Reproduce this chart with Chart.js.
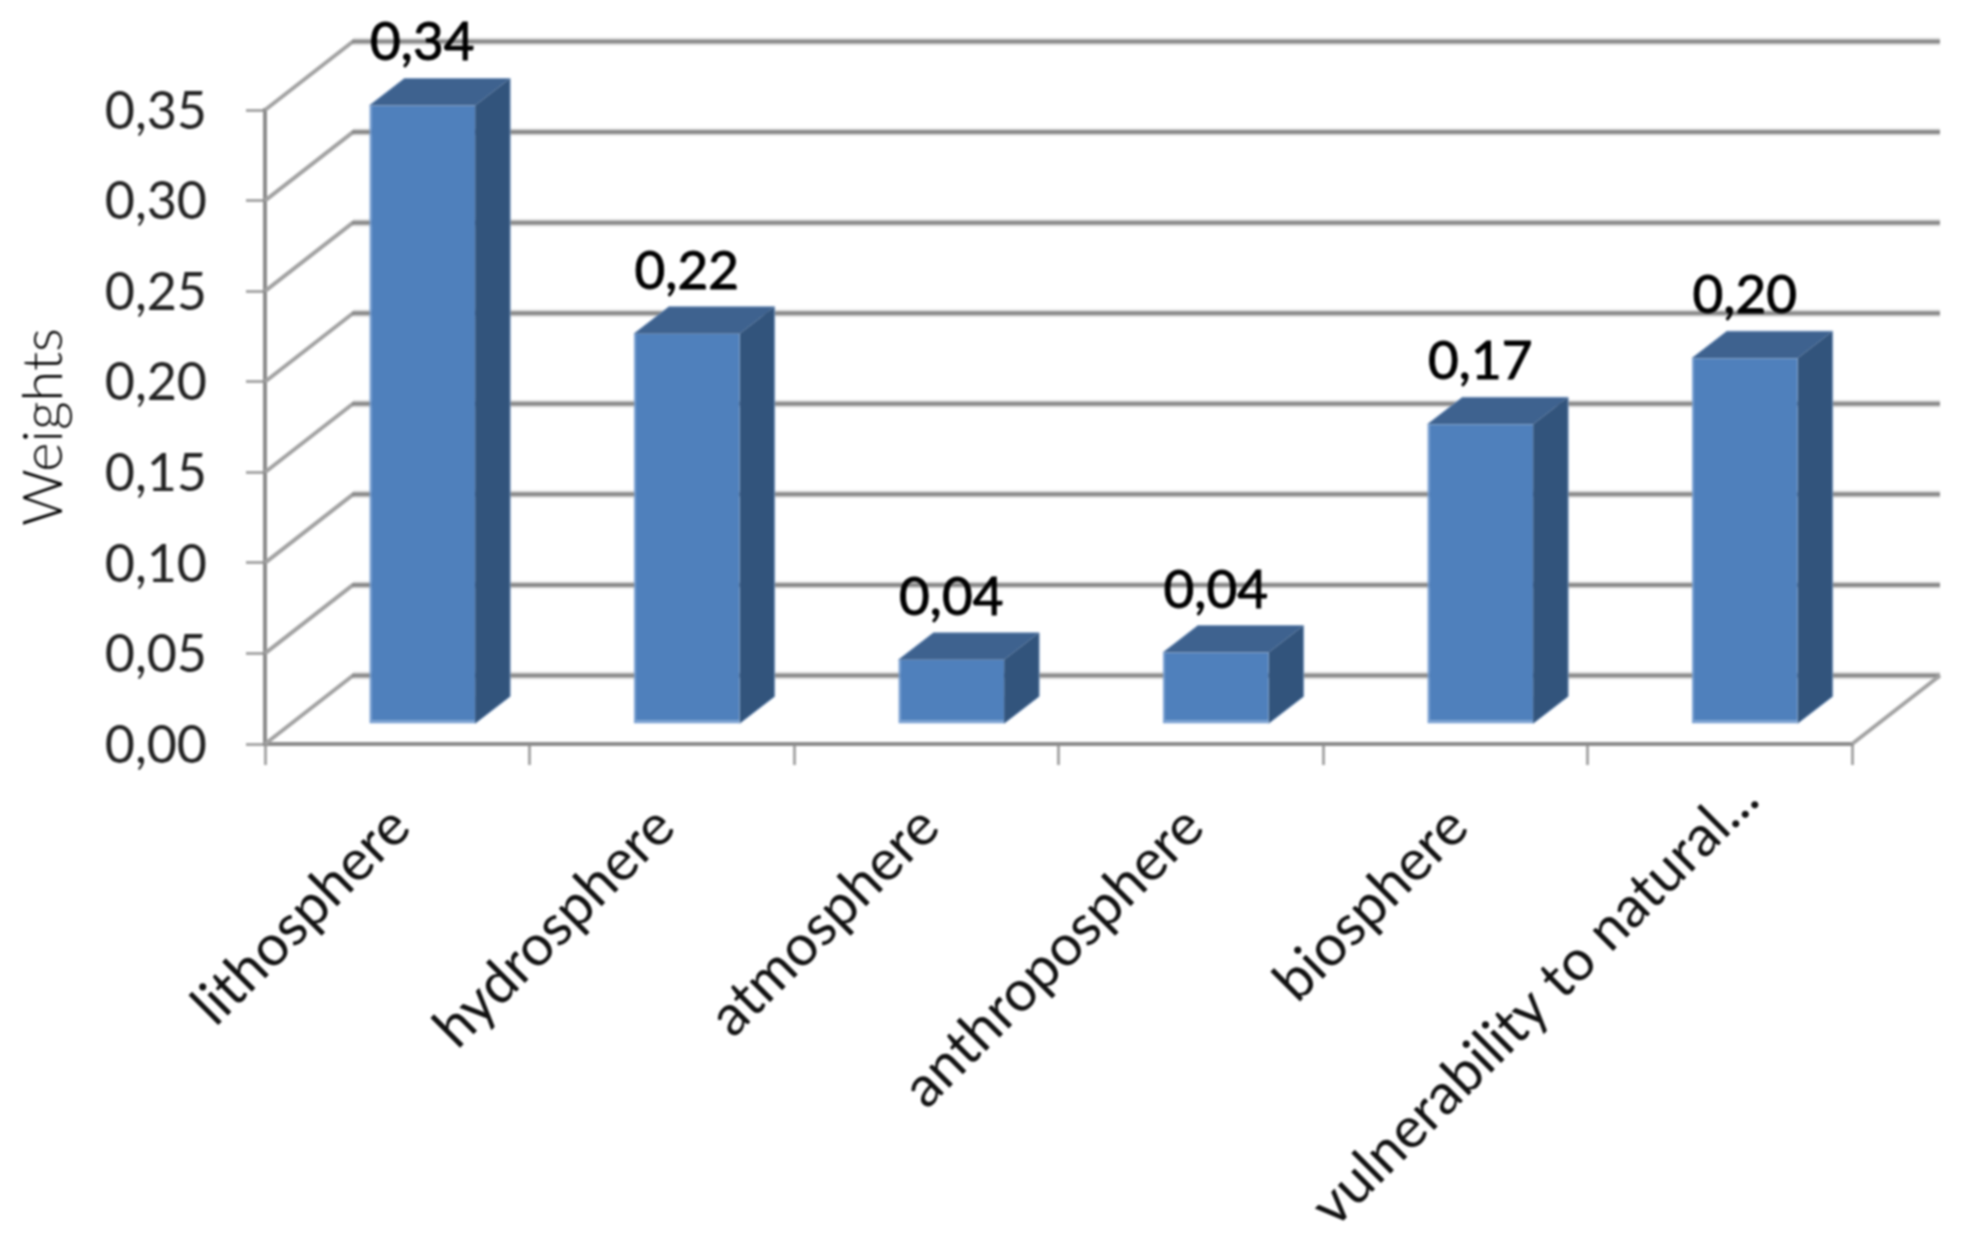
<!DOCTYPE html>
<html><head><meta charset="utf-8">
<style>html,body{margin:0;padding:0;background:#fff}canvas{display:block;filter:blur(0.9px)}</style>
<script src="https://cdn.jsdelivr.net/npm/chart.js@4"></script>
</head><body><canvas id="c" width="1970" height="1255" style="width:1970px;height:1255px"></canvas>
<script>
const categories = ['lithosphere','hydrosphere','atmosphere','anthroposphere','biosphere','vulnerability to natural...'];
const weights = [0.342, 0.216, 0.036, 0.040, 0.166, 0.2025];
const weightLabels = ['0,34','0,22','0,04','0,04','0,17','0,20'];
const yTickLabels = ['0,00','0,05','0,10','0,15','0,20','0,25','0,30','0,35'];
const axisTitle = 'Weights';
const FONT = 'Lato';

const wallDX = 88, wallDY = -68.5;      // depth of the 3D box
const barDX = 25, barDY = -19;          // bars stand part-way into the box
const faceDX = 35, faceDY = -27;        // bar depth

const threeD = {
  id: 'threeD',
  beforeDraw(chart) {
    // the long truncated label sits further up its slant than the others
    const item = chart.scales.x.getLabelItems()[5];
    item.options.translation = [item.options.translation[0] + 26, item.options.translation[1] - 28];
  },
  beforeDatasetsDraw(chart) {
    const {ctx, chartArea: a, scales: {y}} = chart;
    ctx.save();
    ctx.lineJoin = 'miter';
    y.ticks.forEach(t => {
      const py = y.getPixelForValue(t.value);
      const bx = a.left + wallDX, by = py + wallDY;
      ctx.strokeStyle = '#e6e6e6'; ctx.lineWidth = 8;
      ctx.beginPath(); ctx.moveTo(bx, by); ctx.lineTo(a.right + wallDX, by); ctx.stroke();
      ctx.strokeStyle = '#a2a2a2'; ctx.lineWidth = 4;
      ctx.beginPath(); ctx.moveTo(a.left, py); ctx.lineTo(bx, by); ctx.stroke();
      ctx.strokeStyle = '#8a8a8a'; ctx.lineWidth = 4;
      ctx.beginPath(); ctx.moveTo(bx - 1, by); ctx.lineTo(a.right + wallDX, by); ctx.stroke();
    });
    const p0 = y.getPixelForValue(0);
    ctx.strokeStyle = '#a2a2a2'; ctx.lineWidth = 4;
    ctx.beginPath(); ctx.moveTo(a.right, p0); ctx.lineTo(a.right + wallDX, p0 + wallDY); ctx.stroke();
    ctx.restore();
  },
  beforeDatasetDraw(chart, args) {
    const ctx = chart.ctx;
    ctx.save();
    ctx.translate(barDX, barDY);
    args.meta.data.forEach(b => {
      const l = b.x - b.width / 2, r = b.x + b.width / 2;
      // side face
      ctx.fillStyle = '#32547c'; ctx.strokeStyle = '#7e9cc2'; ctx.lineWidth = 1;
      ctx.beginPath();
      ctx.moveTo(r, b.y); ctx.lineTo(r + faceDX, b.y + faceDY);
      ctx.lineTo(r + faceDX, b.base + faceDY); ctx.lineTo(r, b.base); ctx.closePath(); ctx.fill();
      // top face
      ctx.fillStyle = '#3e628f';
      ctx.beginPath();
      ctx.moveTo(l, b.y); ctx.lineTo(l + faceDX, b.y + faceDY);
      ctx.lineTo(r + faceDX, b.y + faceDY); ctx.lineTo(r, b.y); ctx.closePath(); ctx.fill();
      // pale outer edge
      ctx.beginPath();
      ctx.moveTo(l, b.y); ctx.lineTo(l + faceDX, b.y + faceDY);
      ctx.lineTo(r + faceDX, b.y + faceDY); ctx.lineTo(r + faceDX, b.base + faceDY);
      ctx.lineTo(r, b.base); ctx.stroke();
    });
    // stays translated for the bars themselves; restored in afterDatasetDraw
  },
  afterDatasetDraw(chart) { chart.ctx.restore(); },
  afterDatasetsDraw(chart, args) {
    const ctx = chart.ctx, meta = chart.getDatasetMeta(0);
    ctx.save();
    ctx.font = '400 53px ' + FONT;
    ctx.fillStyle = '#000';
    ctx.strokeStyle = '#000';
    ctx.lineWidth = 1;
    ctx.textAlign = 'center';
    ctx.textBaseline = 'alphabetic';
    meta.data.forEach((b, i) => {
      const tx = b.x + barDX, ty = b.y + barDY + faceDY - 18;
      ctx.fillText(weightLabels[i], tx, ty);
      ctx.strokeText(weightLabels[i], tx, ty);
    });
    ctx.restore();
  }
};

new Chart(document.getElementById('c'), {
  type: 'bar',
  data: { labels: categories, datasets: [{
    data: weights, clip: false,
    backgroundColor: '#4f80bc',
    borderColor: '#79a0d2',
    borderWidth: {left: 2, bottom: 3, top: 0, right: 0},
    borderSkipped: false,
    barPercentage: 0.8, categoryPercentage: 0.5
  }]},
  plugins: [threeD],
  options: {
    responsive: false, animation: false, devicePixelRatio: 1,
    layout: {padding: {top: 110, right: 118, bottom: 0, left: 0}},
    plugins: {legend: {display: false}, tooltip: {enabled: false}},
    scales: {
      x: {
        afterFit(s) { s.height = 511; },
        border: {color: '#8c8c8c', width: 4},
        grid: {drawOnChartArea: false, drawTicks: true, tickLength: 21, color: '#a6a6a6', lineWidth: 3},
        ticks: {autoSkip: false, minRotation: 45, maxRotation: 45, padding: 28, labelOffset: 3,
                color: '#111', font: {family: FONT, size: 57}}
      },
      y: {
        min: 0, max: 0.35,
        afterFit(s) { s.width = 265; },
        title: {display: true, text: axisTitle, color: '#000', font: {family: FONT, size: 56, weight: 300}, padding: {top: 10, bottom: 0}},
        border: {color: '#8c8c8c', width: 4},
        grid: {drawOnChartArea: false, drawTicks: true, tickLength: 19, color: '#a6a6a6', lineWidth: 3},
        ticks: {stepSize: 0.05, padding: 39, labelOffset: 2, color: '#222', font: {family: FONT, size: 52, weight: 400},
                callback: (v, i) => yTickLabels[i]}
      }
    }
  }
});
</script></body></html>
